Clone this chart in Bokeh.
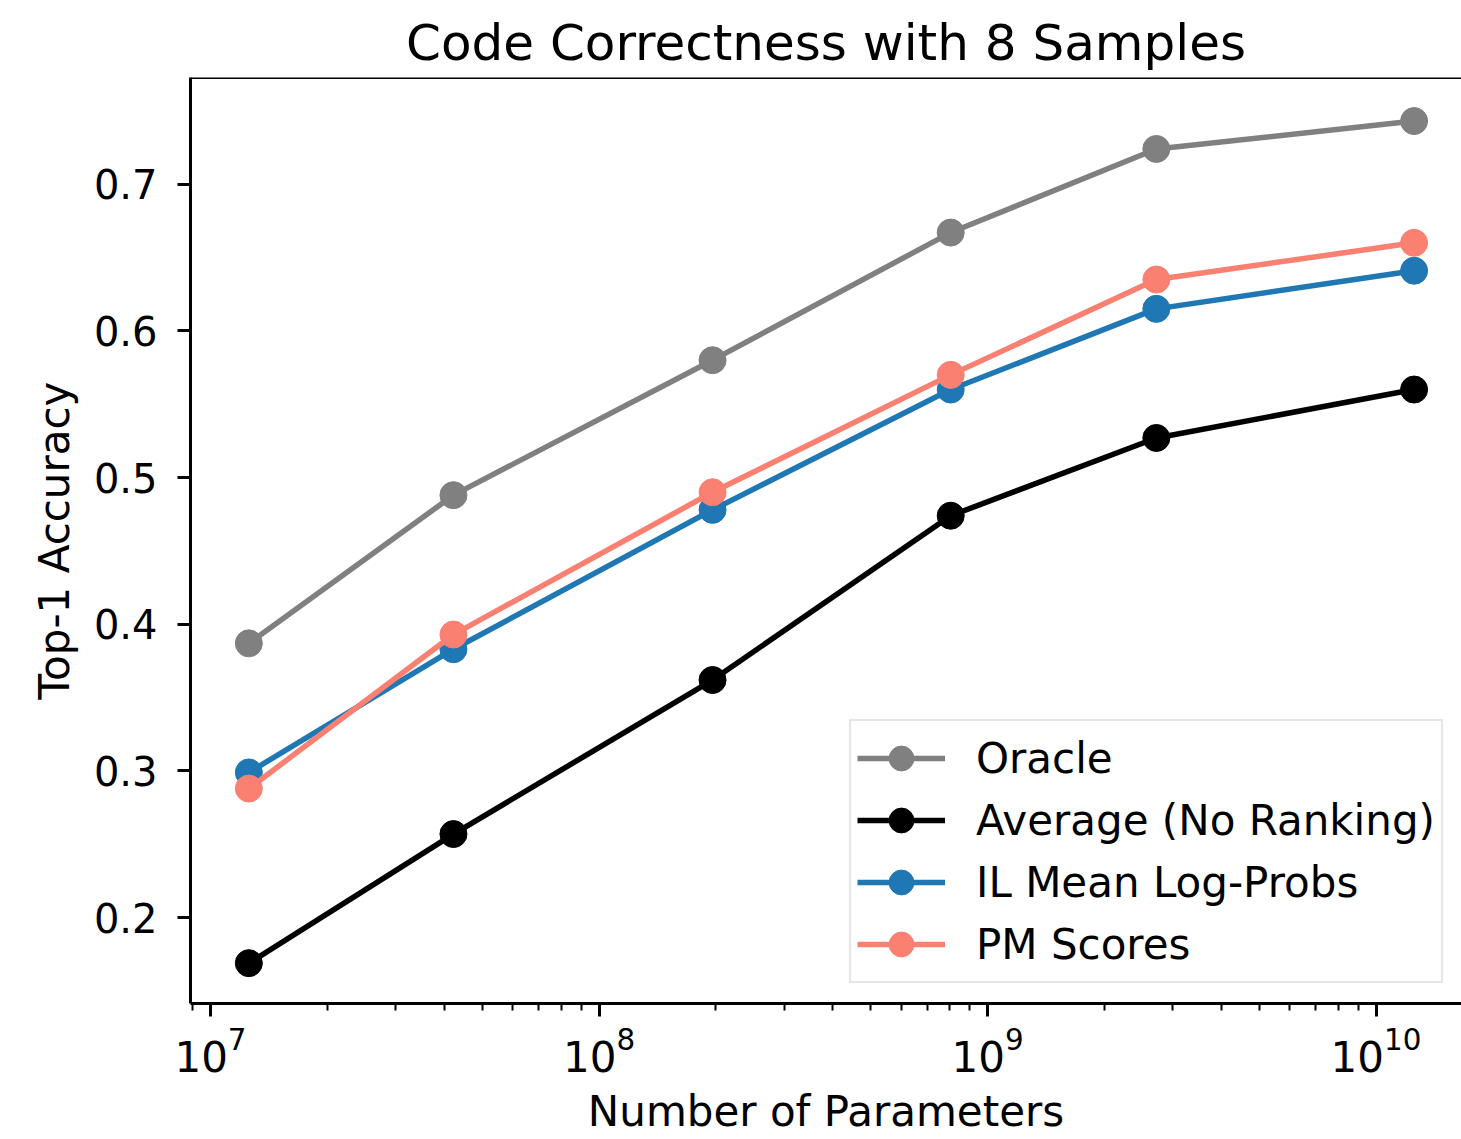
from bokeh.plotting import figure
from bokeh.models import FixedTicker, Span, Legend, LegendItem, PrintfTickFormatter, LogTickFormatter
from bokeh.embed import file_html
from bokeh.resources import INLINE

# Model sizes (number of parameters)
params = [1.255e7, 4.22e7, 1.96e8, 8.04e8, 2.72e9, 1.253e10]

# Top-1 accuracy per ranking method
oracle = [0.387, 0.488, 0.580, 0.667, 0.724, 0.743]
average = [0.169, 0.257, 0.362, 0.474, 0.527, 0.560]
il_logprobs = [0.299, 0.383, 0.478, 0.560, 0.615, 0.641]
pm_scores = [0.288, 0.393, 0.490, 0.570, 0.635, 0.660]

series = [
    ("Oracle", oracle, "#808080"),
    ("Average (No Ranking)", average, "#000000"),
    ("IL Mean Log-Probs", il_logprobs, "#1f77b4"),
    ("PM Scores", pm_scores, "#fa8072"),
]

y_ticks = [0.2, 0.3, 0.4, 0.5, 0.6, 0.7]
x_major = [1e7, 1e8, 1e9, 1e10]
x_minor = [m * 10 ** d for d in range(6, 11) for m in range(2, 10)]

FONT = "DejaVu Sans"
Y_TOP = 0.7727

p = figure(
    width=1461, height=1139,
    x_axis_type="log",
    x_range=(10 ** 6.9485, 10 ** 10.22),
    y_range=(0.1415, Y_TOP),
    output_backend="svg", toolbar_location=None,
    min_border_left=190, min_border_right=0,
    min_border_top=77, min_border_bottom=136,
    title="Code Correctness with 8 Samples",
)

p.outline_line_color = None
p.xgrid.visible = False
p.ygrid.visible = False
p.background_fill_color = "white"
p.border_fill_color = "white"

p.title.align = "center"
p.title.text_font = FONT
p.title.text_font_size = "50px"
p.title.text_font_style = "normal"
p.title.text_color = "black"
p.title.standoff = 12

# top spine
p.add_layout(Span(location=Y_TOP, dimension="width", line_color="black", line_width=3))

for ax in (p.xaxis[0], p.yaxis[0]):
    ax.axis_line_width = 3
    ax.axis_line_color = "black"
    ax.major_tick_line_width = 3
    ax.major_tick_out = 13
    ax.major_tick_in = 0
    ax.minor_tick_line_width = 2
    ax.minor_tick_out = 7
    ax.minor_tick_in = 0
    ax.major_label_text_font = FONT
    ax.major_label_text_color = "black"
    ax.axis_label_text_font = FONT
    ax.axis_label_text_font_size = "42px"
    ax.axis_label_text_font_style = "normal"
    ax.axis_label_text_color = "black"

p.xaxis.ticker = FixedTicker(ticks=x_major, minor_ticks=x_minor)
p.xaxis.formatter = LogTickFormatter()
p.xaxis.axis_label = "Number of Parameters"
p.xaxis.major_label_text_font_size = "42px"
p.xaxis.major_label_standoff = 10
p.xaxis.axis_label_standoff = 12

p.yaxis.ticker = FixedTicker(ticks=y_ticks, minor_ticks=[])
p.yaxis.formatter = PrintfTickFormatter(format="%.1f")
p.yaxis.axis_label = "Top-1 Accuracy"
p.yaxis.major_label_text_font_size = "40px"
p.yaxis.major_label_standoff = 20
p.yaxis.axis_label_standoff = 12

items = []
for name, vals, color in series:
    ln = p.line(params, vals, line_color=color, line_width=5.5)
    sc = p.scatter(params, vals, size=27, fill_color=color, line_color=color, line_width=1)
    items.append(LegendItem(label=name, renderers=[ln, sc]))

legend = Legend(
    items=items,
    location=(659, 20),
    label_text_font=FONT,
    label_text_font_size="42px",
    label_text_color="black",
    glyph_width=88, glyph_height=62,
    label_height=62,
    label_standoff=31,
    spacing=0,
    padding=6,
    margin=0,
    border_line_color="#cccccc",
    border_line_width=2,
    background_fill_color="white",
    background_fill_alpha=0.8,
)
p.add_layout(legend, "center")

open("out.html", "w").write(file_html(p, INLINE))
